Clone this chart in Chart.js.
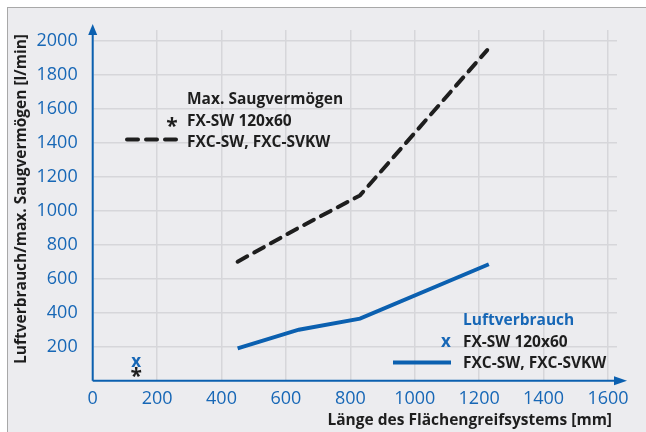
<!DOCTYPE html>
<html lang="de">
<head>
  <meta charset="UTF-8" />
  <title>Luftverbrauch / Saugvermögen</title>
  <script src="https://cdn.jsdelivr.net/npm/chart.js"></script>
  <style>
    body {
      margin: 0;
      background: #fff;
      font-family: 'Open Sans', sans-serif;
    }
    #panel {
      position: absolute;
      left: 7px;
      top: 7px;
      width: 639px;
      height: 425px;
      background: #ececef;
      border-left: 1.5px solid #a8a8a8;
      border-top: 1.5px solid #a8a8a8;
    }
    #wrap {
      position: absolute;
      left: 0;
      top: 0;
      width: 646px;
      height: 432px;
    }
  </style>
</head>
<body>
  <div id="panel"></div>
  <div id="wrap"><canvas id="chart" width="646" height="432"></canvas></div>
  <script>
    // Länge des Flächengreifsystems [mm]
    const lengthsSaug = [450, 640, 830, 1225];
    const maxSaug = [700, 900, 1090, 1945];        // max. Saugvermögen FXC-SW, FXC-SVKW
    const lengthsLuft = [450, 640, 830, 1230];
    const luftverbrauch = [190, 300, 365, 685];   // Luftverbrauch FXC-SW, FXC-SVKW
    // FX-SW 120x60
    const fxLength = [135];
    const fxLuft = [112];
    const fxSaug = [45];

    const xTicks = [0, 200, 400, 600, 800, 1000, 1200, 1400, 1600];
    const yTicks = [200, 400, 600, 800, 1000, 1200, 1400, 1600, 1800, 2000];

    const BLUE = "#0b60b0";
    const BLUE_TXT = "#1767b6";
    const DARK = "#1e1e1e";
    const FONT = "'Open Sans', sans-serif";

    const pts = (xs, ys) => xs.map((x, i) => ({ x: x, y: ys[i] }));

    // draws "x" and "*" markers at data points
    const glyphPlugin = {
      id: "glyphs",
      afterDatasetsDraw(chart) {
        const ctx = chart.ctx;
        chart.data.datasets.forEach((ds, i) => {
          if (!ds.glyph) return;
          ctx.save();
          ctx.fillStyle = ds.glyphColor;
          ctx.font = ds.glyphFont;
          ctx.textAlign = "center";
          ctx.textBaseline = "middle";
          chart.getDatasetMeta(i).data.forEach(p => ctx.fillText(ds.glyph, p.x, p.y + (ds.glyphDy || 0)));
          ctx.restore();
        });
      }
    };

    // axes with arrows, titles and the legend texts
    const decoPlugin = {
      id: "deco",
      afterDraw(chart) {
        const ctx = chart.ctx;
        const a = chart.chartArea;
        ctx.save();
        ctx.strokeStyle = BLUE;
        ctx.fillStyle = BLUE;
        ctx.lineWidth = 2;
        ctx.beginPath();
        ctx.moveTo(a.left, a.bottom);
        ctx.lineTo(a.left, 32);
        ctx.moveTo(a.left, a.bottom);
        ctx.lineTo(616, a.bottom);
        ctx.stroke();
        ctx.beginPath();
        ctx.moveTo(a.left, 24);
        ctx.lineTo(a.left - 4.5, 35);
        ctx.lineTo(a.left + 4.5, 35);
        ctx.closePath();
        ctx.fill();
        ctx.beginPath();
        ctx.moveTo(627, a.bottom);
        ctx.lineTo(614, a.bottom - 4.5);
        ctx.lineTo(614, a.bottom + 4.5);
        ctx.closePath();
        ctx.fill();

        // axis titles
        ctx.fillStyle = DARK;
        ctx.font = "bold 15.5px " + FONT;
        ctx.textBaseline = "middle";
        ctx.textAlign = "right";
        ctx.fillText("Länge des Flächengreifsystems [mm]", 612, 421);
        ctx.save();
        ctx.translate(22, 199);
        ctx.rotate(-Math.PI / 2);
        ctx.textAlign = "center";
        ctx.fillText("Luftverbrauch/max. Saugvermögen [l/min]", 0, 0);
        ctx.restore();

        // legend: max. Saugvermögen
        ctx.textAlign = "left";
        ctx.fillText("Max. Saugvermögen", 187, 100);
        ctx.fillText("FX-SW 120x60", 187, 122);
        ctx.fillText("FXC-SW, FXC-SVKW", 187, 143);
        ctx.textAlign = "center";
        ctx.font = "bold 21px " + FONT;
        ctx.fillText("*", 172, 127);
        ctx.strokeStyle = DARK;
        ctx.lineWidth = 4;
        ctx.lineCap = "round";
        ctx.setLineDash([11, 8]);
        ctx.beginPath();
        ctx.moveTo(127, 139.5);
        ctx.lineTo(180, 139.5);
        ctx.stroke();
        ctx.setLineDash([]);

        // legend: Luftverbrauch
        ctx.font = "bold 15.5px " + FONT;
        ctx.textAlign = "left";
        ctx.fillStyle = BLUE_TXT;
        ctx.fillText("Luftverbrauch", 463, 321);
        ctx.fillStyle = DARK;
        ctx.fillText("FX-SW 120x60", 463, 343);
        ctx.fillText("FXC-SW, FXC-SVKW", 463, 364);
        ctx.fillStyle = BLUE_TXT;
        ctx.textAlign = "center";
        ctx.font = "bold 17px " + FONT;
        ctx.fillText("x", 446, 342);
        ctx.strokeStyle = BLUE;
        ctx.lineCap = "butt";
        ctx.beginPath();
        ctx.moveTo(393, 362.5);
        ctx.lineTo(451, 362.5);
        ctx.stroke();
        ctx.restore();
      }
    };

    new Chart(document.getElementById("chart"), {
      type: "line",
      data: {
        datasets: [
          {
            data: pts(lengthsSaug, maxSaug),
            borderColor: DARK,
            borderWidth: 4,
            borderDash: [11, 8],
            borderCapStyle: "round",
            pointRadius: 0,
            tension: 0
          },
          {
            data: pts(lengthsLuft, luftverbrauch),
            borderColor: BLUE,
            borderWidth: 4,
            pointRadius: 0,
            tension: 0
          },
          {
            data: pts(fxLength, fxLuft),
            showLine: false,
            pointRadius: 0,
            glyph: "x",
            glyphColor: BLUE_TXT,
            glyphFont: "bold 17px " + FONT
          },
          {
            data: pts(fxLength, fxSaug),
            showLine: false,
            pointRadius: 0,
            glyph: "*",
            glyphColor: DARK,
            glyphFont: "bold 21px " + FONT,
            glyphDy: 4
          }
        ]
      },
      options: {
        responsive: false,
        animation: false,
        layout: { padding: { left: 0, top: 30, right: 29, bottom: 0 } },
        plugins: {
          legend: { display: false },
          tooltip: { enabled: false }
        },
        scales: {
          x: {
            type: "linear",
            min: 0,
            max: 1628,
            afterBuildTicks: s => { s.ticks = xTicks.map(v => ({ value: v })); },
            afterFit: s => { s.height = 51.3; },
            grid: { color: "#d6d6da", lineWidth: 1.5, drawTicks: false },
            border: { display: false },
            ticks: {
              color: BLUE_TXT,
              font: { family: FONT, size: 18 },
              padding: 7,
              maxRotation: 0,
              callback: v => String(v)
            }
          },
          y: {
            type: "linear",
            min: 0,
            max: 2063,
            afterBuildTicks: s => { s.ticks = yTicks.map(v => ({ value: v })); },
            afterFit: s => { s.width = 92.7; },
            grid: { color: "#d6d6da", lineWidth: 1.5, drawTicks: false },
            border: { display: false },
            ticks: {
              color: BLUE_TXT,
              font: { family: FONT, size: 18 },
              padding: 15,
              callback: v => String(v)
            }
          }
        }
      },
      plugins: [glyphPlugin, decoPlugin]
    });
  </script>
</body>
</html>
